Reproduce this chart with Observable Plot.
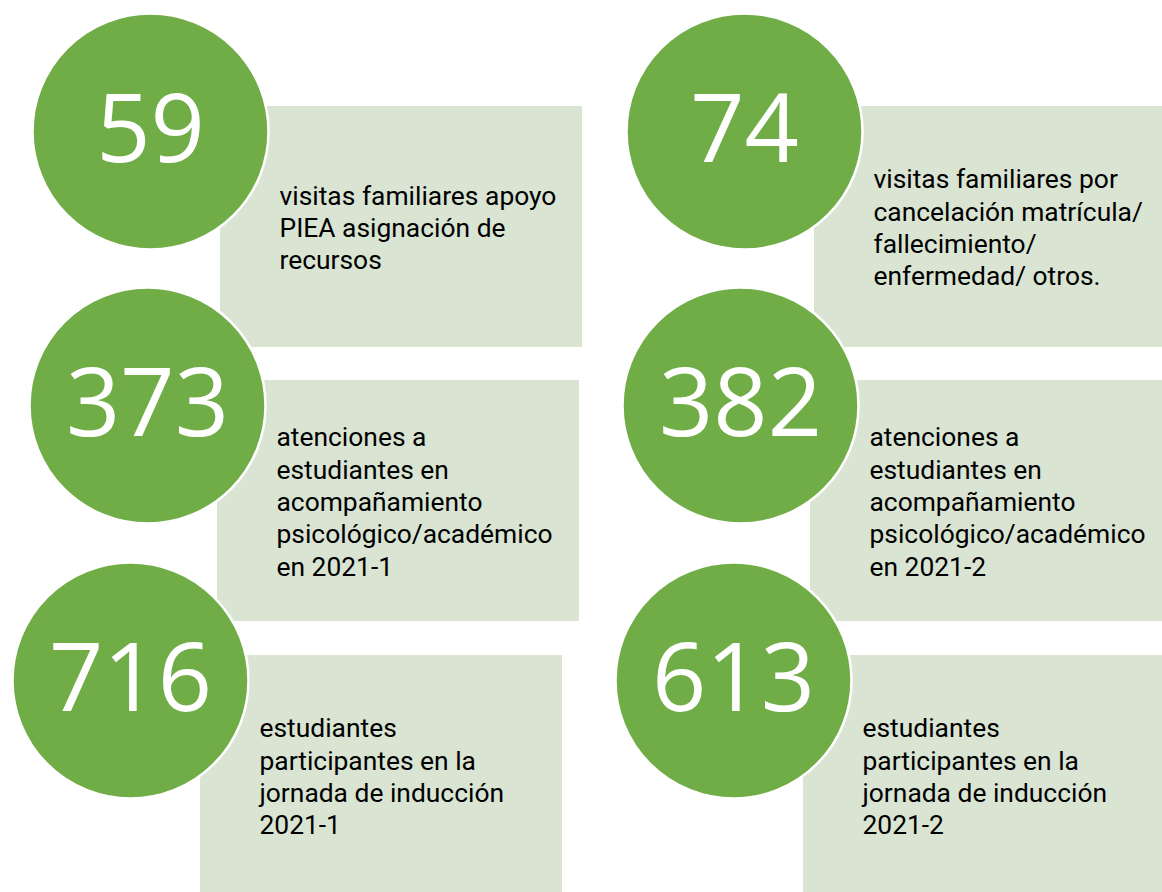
<!DOCTYPE html>
<html>
<head>
<meta charset="utf-8">
<script src="https://cdn.jsdelivr.net/npm/d3@7"></script>
<script src="https://cdn.jsdelivr.net/npm/@observablehq/plot@0.6"></script>
<style>
  html, body { margin: 0; padding: 0; background: #ffffff; }
  #chart svg { display: block; }
</style>
</head>
<body>
<div id="chart"></div>
<script>
// ---- data ----
const values = [59, 74, 373, 382, 716, 613];
const labels = [
  "visitas familiares apoyo\nPIEA asignación de\nrecursos",
  "visitas familiares por\ncancelación matrícula/\nfallecimiento/\nenfermedad/ otros.",
  "atenciones a\nestudiantes en\nacompañamiento\npsicológico/académico\nen 2021-1",
  "atenciones a\nestudiantes en\nacompañamiento\npsicológico/académico\nen 2021-2",
  "estudiantes\nparticipantes en la\njornada de inducción\n2021-1",
  "estudiantes\nparticipantes en la\njornada de inducción\n2021-2"
];

// ---- layout (SmartArt-like grid, 2 columns x 3 rows) ----
const W = 1162, H = 892;
const rowOf = [0, 0, 1, 1, 2, 2];
const rowTop = [106, 380, 655];
const rowHeight = 241;
const circleX = [150, 744, 147, 740, 130, 733];
const circleR = 118;
const rectWidth = 362;

const cards = values.map((v, i) => {
  const top = rowTop[rowOf[i]];
  const cx = circleX[i];
  return {
    value: String(v),
    label: labels[i],
    cx,
    cy: top + 25,
    rx1: cx + 70,
    rx2: cx + 70 + rectWidth,
    ry1: top,
    ry2: top + rowHeight,
    tx: cx + 129,
    ty: top + 120
  };
});

const chart = Plot.plot({
  width: W,
  height: H,
  margin: 0,
  x: {type: "identity", axis: null},
  y: {type: "identity", axis: null},
  style: {fontFamily: "'Open Sans', 'Noto Sans', sans-serif", background: "#ffffff", overflow: "hidden"},
  marks: [
    Plot.rect(cards, {x1: "rx1", x2: "rx2", y1: "ry1", y2: "ry2", fill: "#D9E4D3"}),
    Plot.dot(cards, {x: "cx", y: "cy", r: circleR, fill: "#70AD47", stroke: "#ffffff", strokeWidth: 2.5}),
    Plot.text(cards, {x: "cx", y: "cy", text: "value", fill: "#ffffff", fontSize: 95, fontFamily: "'Open Sans', sans-serif", textAnchor: "middle", lineAnchor: "middle"}),
    Plot.text(cards, {x: "tx", y: "ty", text: "label", fill: "#000000", fontSize: 26.4, fontFamily: "Roboto, 'Open Sans', sans-serif", lineHeight: 1.225, textAnchor: "start", lineAnchor: "middle"})
  ]
});

document.getElementById("chart").appendChild(chart);
</script>
</body>
</html>
